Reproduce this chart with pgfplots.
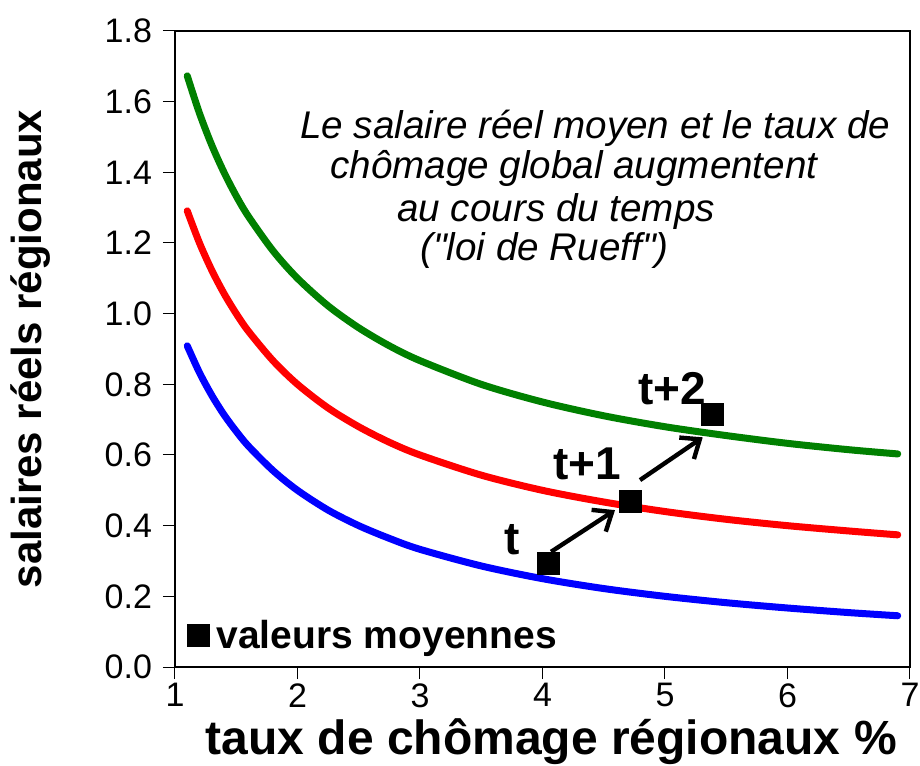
\documentclass[border=0pt]{standalone}
\usepackage{fontspec}
\setmainfont{Liberation Sans}
\usepackage{pgfplots}
\pgfplotsset{compat=1.18}
\usetikzlibrary{arrows.meta}
\definecolor{cgreen}{RGB}{0,128,0}
\definecolor{cred}{RGB}{255,0,0}
\definecolor{cblue}{RGB}{0,0,255}
\begin{document}
\begin{tikzpicture}
\path[use as bounding box] (-87.5pt,-49pt) rectangle (372.5pt,333.5pt);
\begin{axis}[
 at={(0,0)}, anchor=south west,
 scale only axis, width=367.5pt, height=318pt,
 xmin=1, xmax=7, ymin=0, ymax=1.8,
 xtick={1,2,3,4,5,6,7}, ytick={0,0.2,0.4,0.6,0.8,1.0,1.2,1.4,1.6,1.8},
 /pgf/number format/assume math mode=true,
 tick align=outside, tick pos=left,
 major tick length=6pt,
 tick style={black, line width=0.5pt},
 axis line style={line width=1pt},
 ticklabel style={font=\fontsize{17}{20}\selectfont},
 yticklabel style={xshift=-2pt, /pgf/number format/.cd, fixed, fixed zerofill, precision=1},
 xticklabel style={inner sep=1pt, yshift=-1pt},
 xlabel={taux de chômage régionaux \%},
 ylabel={salaires réels régionaux},
 xlabel style={font=\bfseries\fontsize{24}{28}\selectfont, inner sep=1pt, at={(axis description cs:0.512,-0.137)}, anchor=base},
 ylabel style={font=\bfseries\fontsize{21}{24}\selectfont, at={(axis description cs:-0.197,0.5)}, anchor=center},
 clip=false,
]
\addplot[cblue, line width=3.5pt, line cap=round, smooth] coordinates {
(1.1,0.909) (1.2,0.833) (1.3,0.769) (1.4,0.714) (1.5,0.667) (1.6,0.625) (1.8,0.556) (2.0,0.5) (2.25,0.444) (2.5,0.4) (2.75,0.364) (3,0.333) (3.5,0.286) (4,0.25) (4.5,0.222) (5,0.2) (5.5,0.182) (6,0.167) (6.5,0.154) (6.9,0.145)};
\addplot[cred, line width=3.5pt, line cap=round, smooth] coordinates {
(1.1,1.291) (1.2,1.2) (1.3,1.123) (1.4,1.057) (1.5,1.0) (1.6,0.95) (1.8,0.867) (2.0,0.8) (2.25,0.733) (2.5,0.68) (2.75,0.636) (3,0.6) (3.5,0.543) (4,0.5) (4.5,0.467) (5,0.44) (5.5,0.418) (6,0.4) (6.5,0.385) (6.9,0.374)};
\addplot[cgreen, line width=3.5pt, line cap=round, smooth] coordinates {
(1.1,1.673) (1.2,1.567) (1.3,1.477) (1.4,1.4) (1.5,1.333) (1.6,1.275) (1.8,1.178) (2.0,1.1) (2.25,1.022) (2.5,0.96) (2.75,0.909) (3,0.867) (3.5,0.8) (4,0.75) (4.5,0.711) (5,0.68) (5.5,0.655) (6,0.633) (6.5,0.615) (6.9,0.603)};
\addplot[only marks, mark=square*, mark size=5.5pt, black] coordinates {(4.049,0.294) (4.718,0.468) (5.388,0.715) (1.19,0.09)};
\draw[-{Straight Barb[length=8pt,width=13pt]}, line width=2.2pt] (axis cs:4.07,0.326) -- (axis cs:4.592,0.444);
\draw[-{Straight Barb[length=8pt,width=13pt]}, line width=2.2pt] (axis cs:4.796,0.529) -- (axis cs:5.308,0.650);
\node[font=\bfseries\fontsize{23}{26}\selectfont] at (axis cs:3.75,0.36) {t};
\node[font=\bfseries\fontsize{23}{26}\selectfont] at (axis cs:4.363,0.575) {t+1};
\node[font=\bfseries\fontsize{23}{26}\selectfont] at (axis cs:5.057,0.787) {t+2};
\node[font=\bfseries\fontsize{19.5}{22}\selectfont, anchor=west, inner sep=0pt] at (axis cs:1.335,0.082) {valeurs moyennes};
\node[font=\itshape\fontsize{19.3}{22}\selectfont, anchor=west, inner sep=0pt] at (axis cs:2.02,1.526) {Le salaire réel moyen et le taux de};
\node[font=\itshape\fontsize{19.3}{22}\selectfont, anchor=west, inner sep=0pt] at (axis cs:2.265,1.412) {chômage global augmentent};
\node[font=\itshape\fontsize{19.3}{22}\selectfont, anchor=west, inner sep=0pt] at (axis cs:2.812,1.288) {au cours du temps};
\node[font=\itshape\fontsize{19.3}{22}\selectfont\addfontfeatures{Ligatures=TeXOff}, anchor=west, inner sep=0pt] at (axis cs:3.0,1.180) {("loi de Rueff")};
\end{axis}
\end{tikzpicture}
\end{document}
